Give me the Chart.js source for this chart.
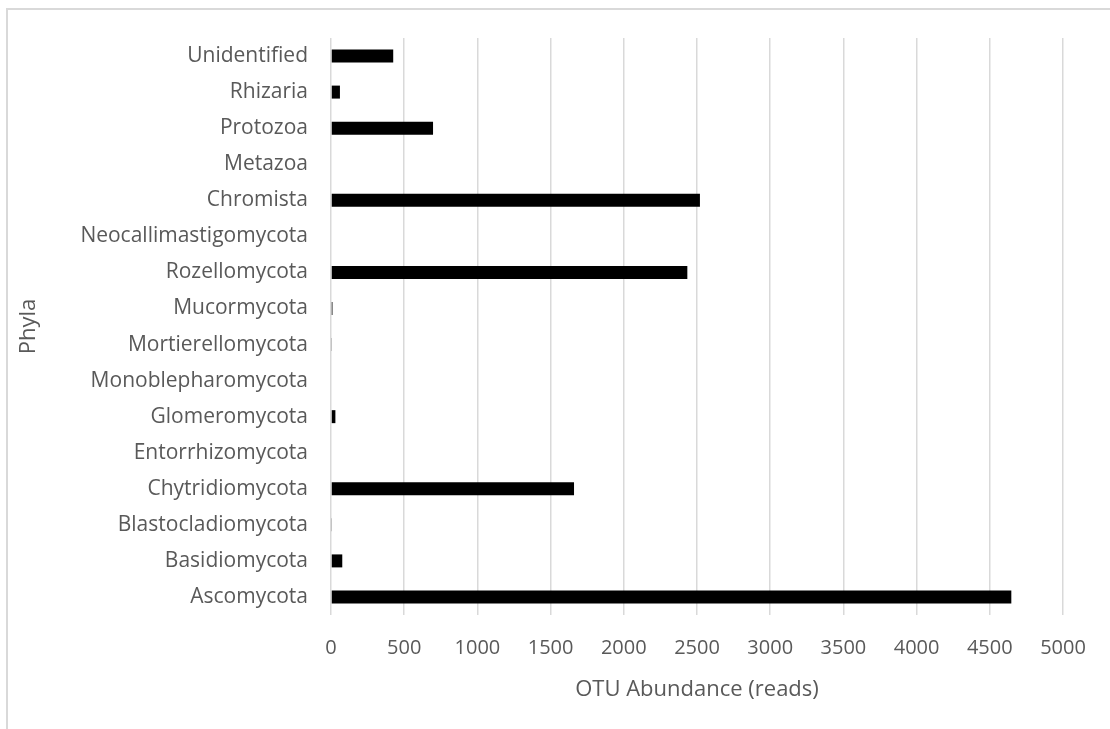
<!DOCTYPE html>
<html>
<head>
<meta charset="utf-8">
<script src="https://cdn.jsdelivr.net/npm/chart.js@4/dist/chart.umd.min.js"></script>
<style>
  html, body { margin: 0; padding: 0; background: #fff; overflow: hidden; }
  #wrap { position: relative; width: 1110px; height: 729px; }
  #frame { position: absolute; left: 6px; top: 8px; width: 1200px; height: 800px;
           border: 2px solid #d9d9d9; box-sizing: border-box; }
  canvas { position: absolute; left: 0; top: 0; }
</style>
</head>
<body>
<div id="wrap">
  <div id="frame"></div>
  <canvas id="c" width="1110" height="729"></canvas>
</div>
<script>
// Phyla, listed top to bottom
const phyla = [
  'Unidentified', 'Rhizaria', 'Protozoa', 'Metazoa', 'Chromista',
  'Neocallimastigomycota', 'Rozellomycota', 'Mucormycota', 'Mortierellomycota',
  'Monoblepharomycota', 'Glomeromycota', 'Entorrhizomycota', 'Chytridiomycota',
  'Blastocladiomycota', 'Basidiomycota', 'Ascomycota'
];
// OTU abundance (reads) per phylum
const reads = [425, 61, 697, 0, 2520, 0, 2434, 10, 4, 0, 30, 0, 1660, 4, 77, 4647];
// x-axis range and step
const xMin = 0, xMax = 5000, xStep = 500;

const textColor = '#595959';
const family = "'Open Sans', sans-serif";
const xTickFont = { family: family, size: 20 };
const yTickFont = { family: family, size: 21 };
const titleFont = { family: family, size: 22 };

new Chart(document.getElementById('c'), {
  type: 'bar',
  data: {
    labels: phyla,
    datasets: [{
      data: reads,
      backgroundColor: '#000000',
      borderWidth: 0,
      barPercentage: 0.36,
      categoryPercentage: 1.0
    }]
  },
  options: {
    indexAxis: 'y',
    responsive: false,
    animation: false,
    devicePixelRatio: 1,
    layout: { padding: { top: 38, right: 47, left: 0, bottom: 0 } },
    plugins: { legend: { display: false }, tooltip: { enabled: false } },
    scales: {
      x: {
        min: xMin, max: xMax,
        ticks: { stepSize: xStep, color: textColor, font: xTickFont, padding: 21,
                 callback: v => String(v) },
        grid: { color: '#d9d9d9', lineWidth: 1.5, drawTicks: false },
        border: { display: false },
        title: { display: true, text: 'OTU Abundance (reads)', color: textColor,
                 font: titleFont, padding: { top: 0, bottom: 26 } },
        afterFit(s) { s.height = 114; }
      },
      y: {
        ticks: { color: textColor, font: yTickFont, padding: 23 },
        grid: { display: false, drawTicks: false },
        border: { display: false },
        title: { display: true, text: 'Phyla', color: textColor,
                 font: titleFont, padding: { top: 16, bottom: 0 } },
        afterFit(s) { s.width = 331; }
      }
    }
  }
});
</script>
</body>
</html>
